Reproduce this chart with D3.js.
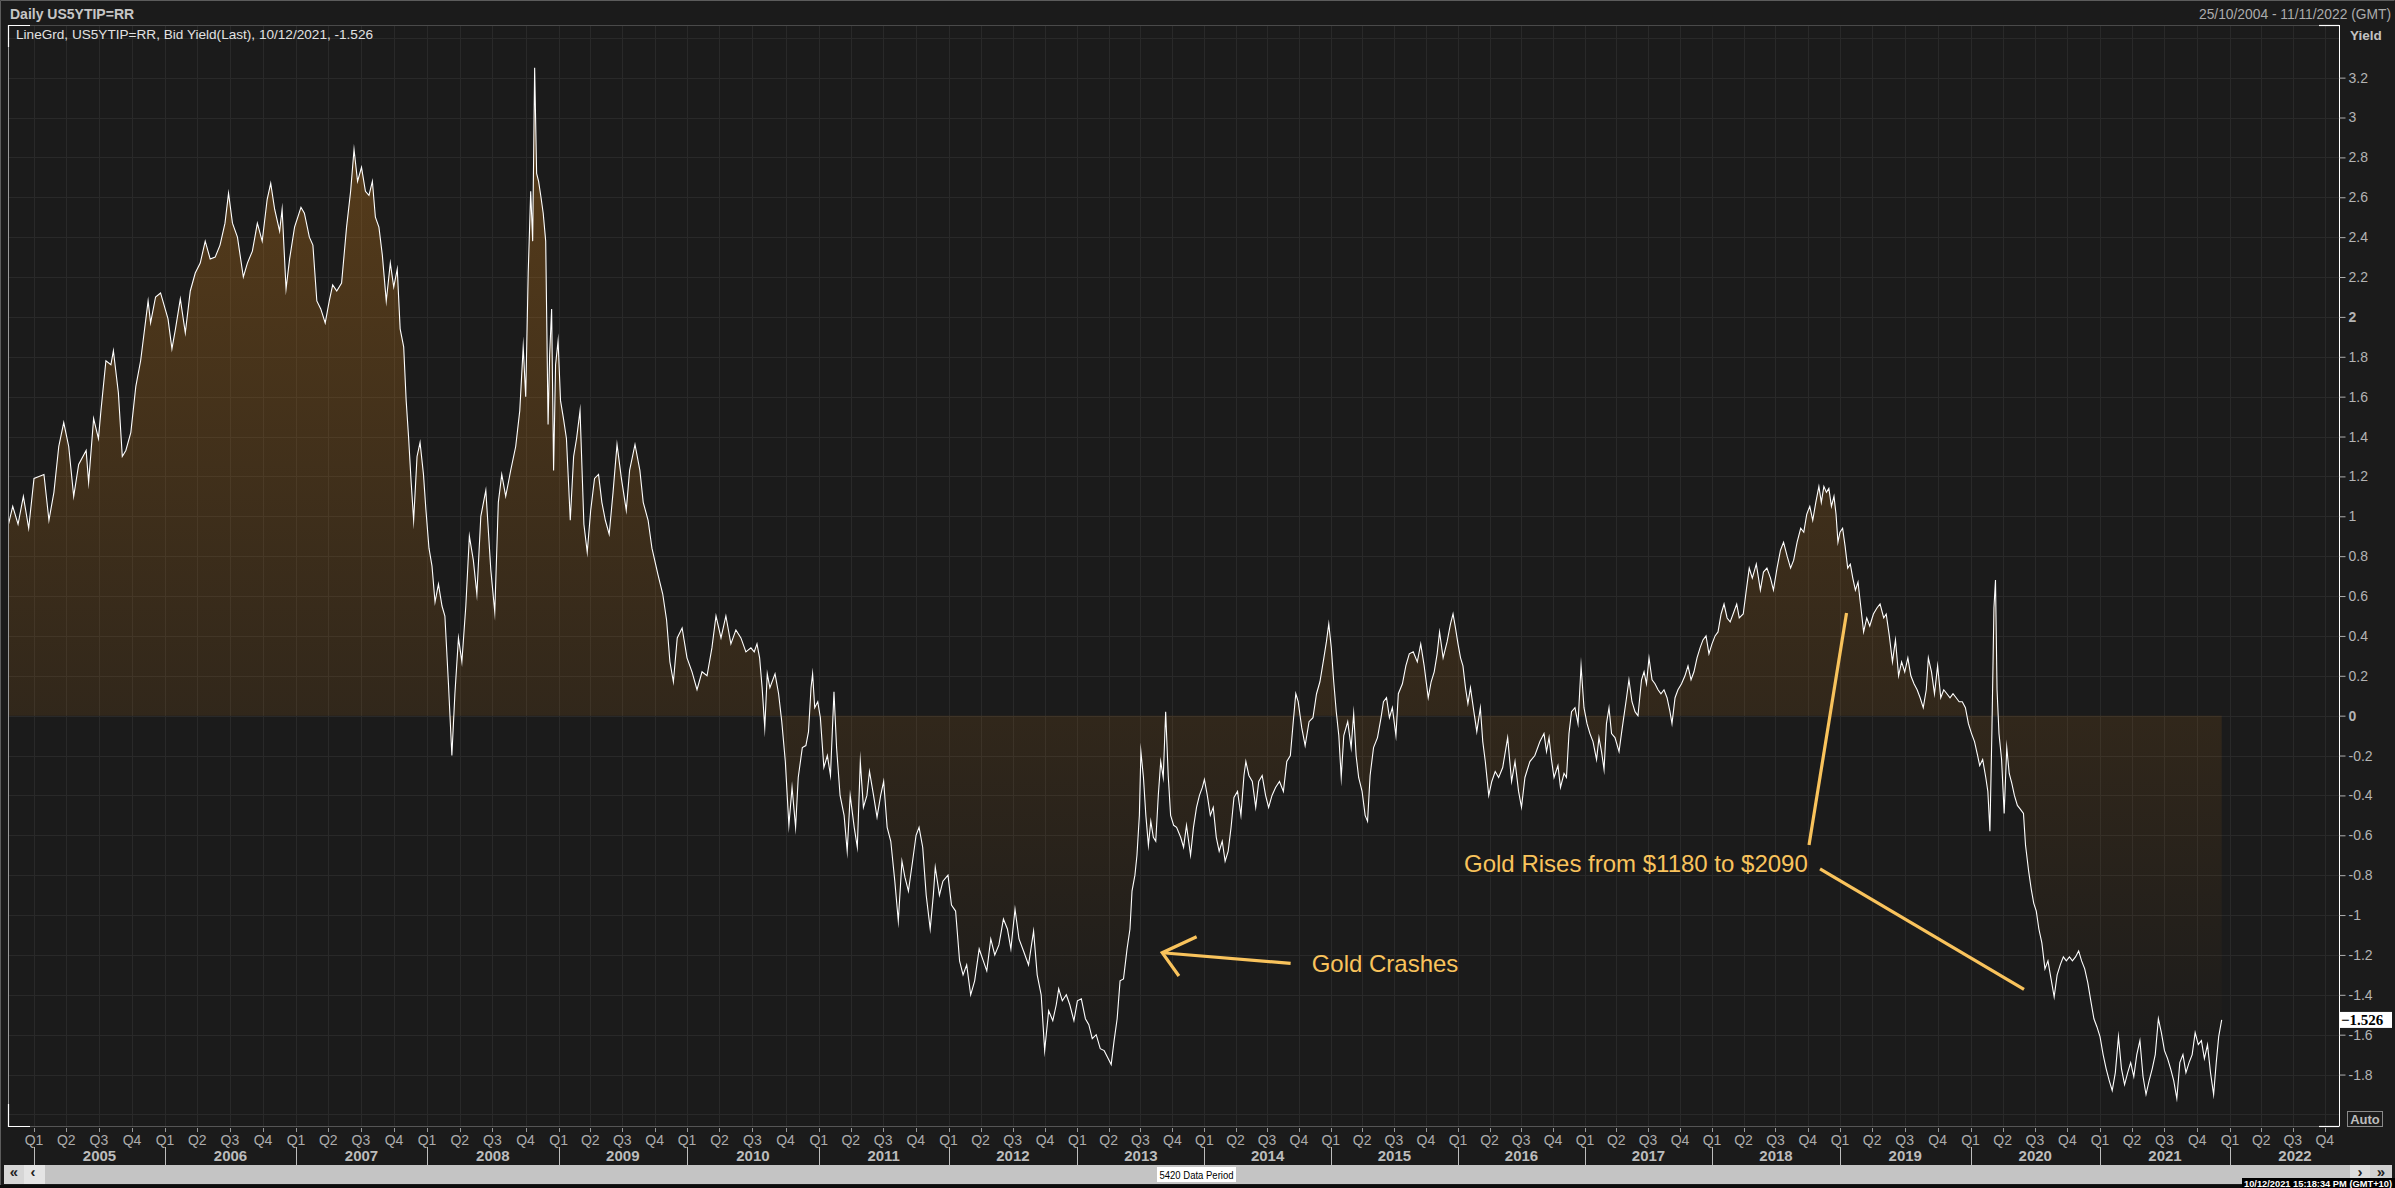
<!DOCTYPE html>
<html><head><meta charset="utf-8">
<script src="https://cdn.jsdelivr.net/npm/d3@7"></script>
<style>html,body{margin:0;padding:0;background:#1b1b1b;overflow:hidden}svg{display:block}</style>
</head><body>
<svg id="chart" width="2395" height="1188"></svg>
<script>
// ---------- DATA (decimal year, real yield %) ----------
const seg2004_2010 = [[2004.811,0.94],[2004.848,1.05],[2004.886,0.96],[2004.924,1.10],[2004.962,0.94],[2005.000,1.19],[2005.038,1.20],[2005.076,1.21],[2005.114,0.98],[2005.152,1.12],[2005.189,1.35],[2005.227,1.47],[2005.265,1.35],[2005.303,1.10],[2005.341,1.26],[2005.398,1.33],[2005.417,1.17],[2005.455,1.49],[2005.492,1.39],[2005.511,1.53],[2005.549,1.78],[2005.587,1.76],[2005.606,1.83],[2005.644,1.62],[2005.674,1.30],[2005.701,1.33],[2005.739,1.42],[2005.777,1.65],[2005.814,1.78],[2005.871,2.08],[2005.890,1.97],[2005.928,2.10],[2005.966,2.12],[2006.023,1.99],[2006.053,1.84],[2006.080,1.94],[2006.117,2.09],[2006.155,1.92],[2006.193,2.13],[2006.231,2.22],[2006.269,2.27],[2006.307,2.38],[2006.345,2.29],[2006.383,2.30],[2006.420,2.36],[2006.458,2.47],[2006.485,2.62],[2006.515,2.47],[2006.553,2.40],[2006.598,2.20],[2006.629,2.27],[2006.667,2.33],[2006.705,2.47],[2006.742,2.38],[2006.780,2.59],[2006.807,2.67],[2006.837,2.54],[2006.875,2.43],[2006.894,2.54],[2006.924,2.14],[2006.951,2.29],[2006.989,2.45],[2007.038,2.55],[2007.064,2.52],[2007.102,2.40],[2007.129,2.36],[2007.159,2.08],[2007.189,2.04],[2007.223,1.97],[2007.254,2.08],[2007.280,2.16],[2007.311,2.13],[2007.348,2.17],[2007.386,2.45],[2007.417,2.63],[2007.443,2.84],[2007.470,2.68],[2007.500,2.75],[2007.530,2.63],[2007.557,2.61],[2007.583,2.68],[2007.606,2.50],[2007.633,2.45],[2007.659,2.31],[2007.689,2.08],[2007.720,2.27],[2007.746,2.15],[2007.773,2.24],[2007.795,1.94],[2007.822,1.85],[2007.841,1.58],[2007.860,1.39],[2007.879,1.17],[2007.898,0.98],[2007.924,1.30],[2007.947,1.37],[2007.973,1.21],[2007.992,1.03],[2008.015,0.84],[2008.038,0.75],[2008.061,0.57],[2008.087,0.66],[2008.114,0.55],[2008.136,0.50],[2008.163,0.16],[2008.189,-0.20],[2008.212,0.11],[2008.239,0.39],[2008.265,0.27],[2008.295,0.55],[2008.322,0.90],[2008.352,0.78],[2008.379,0.61],[2008.409,1.00],[2008.447,1.13],[2008.485,0.73],[2008.515,0.52],[2008.542,1.07],[2008.568,1.21],[2008.598,1.10],[2008.636,1.23],[2008.674,1.35],[2008.705,1.53],[2008.731,1.85],[2008.750,1.60],[2008.769,2.22],[2008.788,2.63],[2008.803,2.38],[2008.818,3.25],[2008.833,2.72],[2008.848,2.68],[2008.864,2.61],[2008.883,2.52],[2008.902,2.38],[2008.920,1.46],[2008.932,1.81],[2008.947,2.04],[2008.962,1.23],[2008.977,1.76],[2008.996,1.88],[2009.015,1.58],[2009.038,1.49],[2009.061,1.39],[2009.091,0.98],[2009.117,1.30],[2009.140,1.39],[2009.167,1.53],[2009.197,0.96],[2009.223,0.82],[2009.250,1.03],[2009.280,1.19],[2009.311,1.21],[2009.337,1.07],[2009.364,0.98],[2009.394,0.91],[2009.424,1.12],[2009.455,1.36],[2009.489,1.19],[2009.527,1.03],[2009.553,1.23],[2009.595,1.36],[2009.633,1.23],[2009.659,1.07],[2009.697,0.98],[2009.727,0.84],[2009.773,0.71],[2009.811,0.61],[2009.841,0.48],[2009.867,0.27],[2009.894,0.17],[2009.924,0.39],[2009.962,0.44],[2010.000,0.29],[2010.038,0.22],[2010.076,0.13],[2010.114,0.22],[2010.152,0.20],[2010.189,0.34],[2010.220,0.50],[2010.258,0.39],[2010.295,0.50],[2010.333,0.36],[2010.371,0.43],[2010.409,0.39],[2010.447,0.32],[2010.485,0.34],[2010.510,0.32]];
const seg2010_2016 = [[2010.531,0.36],[2010.551,0.29],[2010.570,0.14],[2010.590,-0.06],[2010.609,0.21],[2010.629,0.14],[2010.668,0.21],[2010.695,0.11],[2010.719,-0.03],[2010.746,-0.23],[2010.773,-0.55],[2010.797,-0.36],[2010.824,-0.56],[2010.844,-0.31],[2010.875,-0.16],[2010.902,-0.15],[2010.922,-0.08],[2010.941,0.14],[2010.953,0.21],[2010.969,0.04],[2010.992,0.07],[2011.012,-0.01],[2011.039,-0.26],[2011.066,-0.20],[2011.090,-0.30],[2011.117,0.12],[2011.137,-0.16],[2011.164,-0.40],[2011.195,-0.50],[2011.219,-0.68],[2011.242,-0.40],[2011.273,-0.56],[2011.297,-0.66],[2011.320,-0.23],[2011.344,-0.46],[2011.371,-0.40],[2011.391,-0.28],[2011.422,-0.40],[2011.449,-0.51],[2011.477,-0.40],[2011.500,-0.33],[2011.527,-0.56],[2011.555,-0.63],[2011.586,-0.83],[2011.613,-1.03],[2011.641,-0.73],[2011.664,-0.81],[2011.691,-0.88],[2011.723,-0.73],[2011.750,-0.60],[2011.773,-0.56],[2011.801,-0.66],[2011.828,-0.90],[2011.859,-1.07],[2011.883,-0.90],[2011.898,-0.76],[2011.930,-0.90],[2011.957,-0.83],[2011.996,-0.80],[2012.023,-0.95],[2012.055,-0.98],[2012.086,-1.23],[2012.113,-1.30],[2012.141,-1.25],[2012.172,-1.40],[2012.203,-1.33],[2012.238,-1.17],[2012.270,-1.23],[2012.297,-1.28],[2012.328,-1.12],[2012.359,-1.20],[2012.391,-1.15],[2012.426,-1.02],[2012.457,-1.07],[2012.484,-1.17],[2012.516,-0.97],[2012.547,-1.12],[2012.582,-1.18],[2012.621,-1.25],[2012.660,-1.08],[2012.688,-1.30],[2012.719,-1.40],[2012.746,-1.68],[2012.777,-1.48],[2012.809,-1.53],[2012.836,-1.45],[2012.855,-1.37],[2012.883,-1.43],[2012.914,-1.40],[2012.941,-1.45],[2012.973,-1.53],[2013.000,-1.43],[2013.031,-1.42],[2013.063,-1.52],[2013.090,-1.55],[2013.117,-1.62],[2013.148,-1.60],[2013.180,-1.67],[2013.211,-1.68],[2013.242,-1.72],[2013.266,-1.75],[2013.289,-1.63],[2013.313,-1.52],[2013.336,-1.33],[2013.363,-1.32],[2013.391,-1.17],[2013.414,-1.07],[2013.430,-0.88],[2013.453,-0.80],[2013.469,-0.70],[2013.488,-0.50],[2013.500,-0.18],[2013.520,-0.31],[2013.539,-0.50],[2013.559,-0.65],[2013.578,-0.53],[2013.598,-0.61],[2013.617,-0.63],[2013.637,-0.40],[2013.656,-0.23],[2013.676,-0.31],[2013.695,0.02],[2013.715,-0.30],[2013.734,-0.50],[2013.758,-0.55],[2013.781,-0.56],[2013.813,-0.61],[2013.836,-0.66],[2013.859,-0.55],[2013.891,-0.70],[2013.914,-0.56],[2013.938,-0.46],[2013.961,-0.40],[2013.984,-0.36],[2014.000,-0.32],[2014.023,-0.40],[2014.047,-0.50],[2014.070,-0.46],[2014.094,-0.61],[2014.117,-0.68],[2014.141,-0.63],[2014.164,-0.73],[2014.188,-0.68],[2014.211,-0.56],[2014.234,-0.41],[2014.262,-0.38],[2014.289,-0.50],[2014.313,-0.30],[2014.328,-0.23],[2014.352,-0.30],[2014.379,-0.33],[2014.406,-0.46],[2014.430,-0.33],[2014.457,-0.30],[2014.484,-0.40],[2014.508,-0.46],[2014.535,-0.40],[2014.563,-0.36],[2014.594,-0.33],[2014.625,-0.38],[2014.652,-0.23],[2014.680,-0.20],[2014.703,-0.03],[2014.723,0.11],[2014.742,0.07],[2014.770,-0.06],[2014.797,-0.15],[2014.828,-0.03],[2014.859,-0.01],[2014.887,0.11],[2014.914,0.17],[2014.945,0.29],[2014.965,0.37],[2014.984,0.46],[2015.004,0.34],[2015.023,0.17],[2015.043,0.02],[2015.063,-0.10],[2015.082,-0.31],[2015.102,-0.10],[2015.133,-0.03],[2015.160,-0.16],[2015.180,0.01],[2015.199,-0.20],[2015.219,-0.31],[2015.246,-0.38],[2015.270,-0.50],[2015.289,-0.53],[2015.309,-0.30],[2015.336,-0.16],[2015.367,-0.11],[2015.395,-0.01],[2015.414,0.07],[2015.438,0.09],[2015.461,-0.01],[2015.484,0.04],[2015.512,-0.10],[2015.531,0.11],[2015.563,0.16],[2015.590,0.25],[2015.617,0.31],[2015.648,0.32],[2015.680,0.27],[2015.707,0.36],[2015.734,0.25],[2015.766,0.09],[2015.789,0.17],[2015.813,0.22],[2015.836,0.31],[2015.855,0.42],[2015.883,0.29],[2015.914,0.37],[2015.941,0.46],[2015.961,0.51],[2015.980,0.44],[2016.000,0.36],[2016.020,0.29],[2016.039,0.25],[2016.059,0.14],[2016.078,0.06],[2016.098,0.14],[2016.125,0.02],[2016.148,-0.08],[2016.176,0.04],[2016.195,-0.13],[2016.215,-0.23],[2016.242,-0.40],[2016.266,-0.33],[2016.293,-0.28],[2016.320,-0.31],[2016.352,-0.26],[2016.391,-0.11],[2016.422,-0.33],[2016.449,-0.23],[2016.477,-0.38],[2016.500,-0.46],[2016.527,-0.31],[2016.566,-0.23],[2016.605,-0.20],[2016.645,-0.13]];
const seg2016_2021 = [[2016.677,-0.09],[2016.697,-0.18],[2016.717,-0.11],[2016.736,-0.22],[2016.756,-0.31],[2016.787,-0.25],[2016.807,-0.36],[2016.835,-0.29],[2016.854,-0.31],[2016.874,-0.09],[2016.894,0.02],[2016.921,0.04],[2016.945,-0.04],[2016.969,0.25],[2016.992,0.04],[2017.016,-0.04],[2017.039,-0.09],[2017.063,-0.13],[2017.091,-0.22],[2017.110,-0.11],[2017.130,-0.18],[2017.150,-0.27],[2017.169,-0.04],[2017.189,0.04],[2017.209,-0.09],[2017.236,-0.11],[2017.268,-0.18],[2017.287,-0.09],[2017.307,0.00],[2017.327,0.09],[2017.346,0.18],[2017.370,0.07],[2017.394,0.02],[2017.417,0.00],[2017.445,0.18],[2017.465,0.22],[2017.484,0.16],[2017.504,0.29],[2017.528,0.18],[2017.551,0.16],[2017.575,0.13],[2017.598,0.11],[2017.622,0.13],[2017.646,0.09],[2017.669,0.02],[2017.685,-0.04],[2017.709,0.09],[2017.732,0.13],[2017.760,0.16],[2017.787,0.20],[2017.811,0.25],[2017.835,0.18],[2017.858,0.22],[2017.882,0.29],[2017.906,0.34],[2017.929,0.38],[2017.953,0.40],[2017.976,0.31],[2018.000,0.36],[2018.024,0.40],[2018.047,0.42],[2018.071,0.51],[2018.094,0.56],[2018.118,0.49],[2018.142,0.47],[2018.165,0.51],[2018.193,0.56],[2018.213,0.49],[2018.244,0.51],[2018.268,0.63],[2018.291,0.74],[2018.315,0.69],[2018.346,0.76],[2018.378,0.63],[2018.402,0.72],[2018.429,0.74],[2018.457,0.69],[2018.480,0.63],[2018.508,0.74],[2018.535,0.83],[2018.559,0.87],[2018.587,0.80],[2018.614,0.74],[2018.638,0.78],[2018.665,0.87],[2018.693,0.94],[2018.717,0.92],[2018.740,1.01],[2018.764,1.05],[2018.787,0.98],[2018.811,1.07],[2018.835,1.15],[2018.854,1.07],[2018.874,1.15],[2018.894,1.12],[2018.913,1.14],[2018.933,1.05],[2018.953,1.10],[2018.969,1.01],[2018.984,0.87],[2019.000,0.92],[2019.020,0.94],[2019.039,0.85],[2019.059,0.74],[2019.079,0.76],[2019.098,0.69],[2019.118,0.63],[2019.138,0.67],[2019.157,0.56],[2019.181,0.42],[2019.205,0.49],[2019.228,0.45],[2019.256,0.51],[2019.283,0.54],[2019.307,0.56],[2019.335,0.49],[2019.354,0.51],[2019.378,0.40],[2019.402,0.27],[2019.425,0.38],[2019.449,0.20],[2019.472,0.27],[2019.496,0.22],[2019.520,0.29],[2019.543,0.20],[2019.567,0.16],[2019.591,0.13],[2019.614,0.09],[2019.638,0.04],[2019.661,0.13],[2019.677,0.29],[2019.701,0.22],[2019.724,0.11],[2019.748,0.25],[2019.772,0.09],[2019.795,0.13],[2019.819,0.11],[2019.843,0.09],[2019.866,0.11],[2019.890,0.09],[2019.913,0.07],[2019.937,0.07],[2019.961,0.04],[2019.984,-0.04],[2020.008,-0.09],[2020.031,-0.13],[2020.055,-0.20],[2020.071,-0.25],[2020.094,-0.22],[2020.118,-0.31],[2020.134,-0.38],[2020.150,-0.58],[2020.165,-0.09],[2020.181,0.54],[2020.193,0.68],[2020.205,0.13],[2020.220,-0.09],[2020.240,-0.22],[2020.260,-0.49],[2020.280,-0.16],[2020.299,-0.29],[2020.319,-0.34],[2020.339,-0.40],[2020.362,-0.45],[2020.386,-0.47],[2020.409,-0.49],[2020.425,-0.65],[2020.449,-0.78],[2020.469,-0.87],[2020.488,-0.94],[2020.508,-0.98],[2020.528,-1.07],[2020.551,-1.14],[2020.575,-1.27],[2020.598,-1.23],[2020.622,-1.32],[2020.646,-1.41],[2020.669,-1.30],[2020.693,-1.25],[2020.717,-1.21],[2020.740,-1.23],[2020.764,-1.21],[2020.787,-1.23],[2020.811,-1.21],[2020.835,-1.18],[2020.858,-1.23],[2020.882,-1.27],[2020.906,-1.34],[2020.929,-1.43],[2020.953,-1.52],[2020.976,-1.56],[2021.000,-1.61],[2021.024,-1.70],[2021.047,-1.77],[2021.071,-1.83],[2021.094,-1.88],[2021.118,-1.79],[2021.142,-1.61],[2021.165,-1.77],[2021.189,-1.85],[2021.213,-1.79],[2021.236,-1.74],[2021.260,-1.81],[2021.283,-1.70],[2021.307,-1.63],[2021.331,-1.81],[2021.354,-1.90],[2021.378,-1.83],[2021.402,-1.77],[2021.425,-1.70],[2021.449,-1.52],[2021.472,-1.59],[2021.496,-1.68],[2021.520,-1.72],[2021.543,-1.77],[2021.567,-1.83],[2021.591,-1.92],[2021.614,-1.74],[2021.638,-1.70],[2021.661,-1.79],[2021.685,-1.74],[2021.709,-1.70],[2021.732,-1.59],[2021.756,-1.65],[2021.780,-1.63],[2021.803,-1.72],[2021.827,-1.65],[2021.850,-1.79],[2021.874,-1.90],[2021.894,-1.74],[2021.913,-1.61],[2021.936,-1.526]];

const yTickValues = [3.2,3,2.8,2.6,2.4,2.2,2,1.8,1.6,1.4,1.2,1,0.8,0.6,0.4,0.2,0,-0.2,-0.4,-0.6,-0.8,-1,-1.2,-1.4,-1.6,-1.8];
const yGridValues = [3.4,3.2,3,2.8,2.6,2.4,2.2,2,1.8,1.6,1.4,1.2,1,0.8,0.6,0.4,0.2,0,-0.2,-0.4,-0.6,-0.8,-1,-1.2,-1.4,-1.6,-1.8,-2];
const boldTicks = [0, 2];
const yearLabels = [2005,2006,2007,2008,2009,2010,2011,2012,2013,2014,2015,2016,2017,2018,2019,2020,2021,2022];
const quarterNames = ["Q1","Q2","Q3","Q4"];
const lastValue = -1.526;
const titleText = "Daily US5YTIP=RR";
const legendText = "LineGrd, US5YTIP=RR, Bid Yield(Last), 10/12/2021, -1.526";
const rangeText = "25/10/2004 - 11/11/2022 (GMT)";
const axisTitle = "Yield";
const periodText = "5420 Data Period";
const stampText = "10/12/2021 15:18:34 PM  (GMT+10)";
// annotation anchors (where the arrow / line points to), in data units
const noteCrash = {text:"Gold Crashes", date:2013.668, value:-1.189};
const noteRise = {text:"Gold Rises from $1180 to $2090", date:2019.05, value:0.515};

// ---------- SCALES ----------
const decToDate = t => { const yr = Math.floor(t); const a = Date.UTC(yr,0,1), b = Date.UTC(yr+1,0,1); return new Date(a + (t-yr)*(b-a)); };
const series = seg2004_2010.concat(seg2010_2016, seg2016_2021).map(([t,v]) => ({date: decToDate(t), v}));

// axis layout: pixel position of each calendar-year start on the (uneven) data-period axis
const axisDomain = [new Date(Date.UTC(2004,9,25))].concat(yearLabels.map(y => new Date(Date.UTC(y,0,1))), [new Date(Date.UTC(2022,10,11))]);
const axisRange = [8, 34, 165, 296, 427, 558.6, 687, 818.8, 948.5, 1077.4, 1204.4, 1330.8, 1458, 1585, 1712, 1840, 1970.5, 2100, 2230, 2339];
const x = d3.scaleUtc().domain(axisDomain).range(axisRange);
const plotTop = 25, plotBottom = 1126, plotLeft = 8, plotRight = 2339;
const y = d3.scaleLinear().domain([-2.058, 3.464]).range([plotBottom, plotTop]);

const svg = d3.select("#chart");
const FONT = "'Liberation Sans', Arial, sans-serif";

svg.append("rect").attr("width",2395).attr("height",1188).attr("fill","#1b1b1b");
svg.append("path").attr("d","M0.5,1188V0.5H2394.5").attr("stroke","#5c5c5c").attr("fill","none");

const defs = svg.append("defs");
const grad = defs.append("linearGradient").attr("id","fillGrad").attr("gradientUnits","userSpaceOnUse")
  .attr("x1",0).attr("x2",0).attr("y1",y(3.46)).attr("y2",y(-1.75));
grad.append("stop").attr("offset",0).attr("stop-color","rgb(205,125,25)").attr("stop-opacity",0.37);
grad.append("stop").attr("offset",1).attr("stop-color","rgb(205,125,25)").attr("stop-opacity",0);
defs.append("clipPath").attr("id","plotClip").append("rect")
  .attr("x",plotLeft).attr("y",plotTop).attr("width",plotRight-plotLeft).attr("height",plotBottom-plotTop);

// gridlines
const quarters = d3.utcMonth.every(3).range(new Date(Date.UTC(2004,9,25)), new Date(Date.UTC(2022,10,11)));
const grid = svg.append("g").attr("stroke","#292929").attr("stroke-width",1);
grid.selectAll("line.v").data(quarters).join("line")
  .attr("x1",d=>Math.round(x(d))+0.5).attr("x2",d=>Math.round(x(d))+0.5)
  .attr("y1",plotTop).attr("y2",plotBottom);
grid.selectAll("line.h").data(yGridValues).join("line")
  .attr("x1",plotLeft).attr("x2",plotRight)
  .attr("y1",d=>Math.round(y(d))+0.5).attr("y2",d=>Math.round(y(d))+0.5);

// area + line
const g = svg.append("g").attr("clip-path","url(#plotClip)");
g.append("path").datum(series).attr("fill","url(#fillGrad)")
  .attr("d", d3.area().x(d=>x(d.date)).y0(y(0)).y1(d=>y(d.v)));
g.append("path").datum(series).attr("fill","none").attr("stroke","#ffffff").attr("stroke-width",1.1)
  .attr("stroke-linejoin","miter").attr("stroke-miterlimit",20)
  .attr("d", d3.line().x(d=>x(d.date)).y(d=>y(d.v)));

// plot frame
svg.append("line").attr("x1",plotLeft).attr("x2",plotRight).attr("y1",plotTop+0.5).attr("y2",plotTop+0.5).attr("stroke","#4a4a4a");
svg.append("line").attr("x1",plotLeft).attr("x2",plotRight).attr("y1",plotBottom+0.5).attr("y2",plotBottom+0.5).attr("stroke","#555");
svg.append("line").attr("x1",plotLeft+0.5).attr("x2",plotLeft+0.5).attr("y1",plotTop).attr("y2",plotBottom).attr("stroke","#9a9a9a");
const corner = svg.append("g").attr("stroke","#fff").attr("fill","none").attr("stroke-width",1.2);
corner.append("path").attr("d",`M${plotLeft+0.5},${plotTop+22}V${plotTop+0.5}H${plotLeft+22}`);
corner.append("path").attr("d",`M${plotLeft+0.5},${plotBottom-22}V${plotBottom+0.5}H${plotLeft+22}`);
corner.append("path").attr("d",`M${plotRight-20},${plotTop+0.5}H${plotRight}`);
corner.append("path").attr("d",`M${plotRight-20},${plotBottom+0.5}H${plotRight}`);

// right axis
const yAxis = d3.axisRight(y).tickValues(yTickValues).tickSize(6).tickPadding(3)
  .tickFormat(d => String(Math.round(d*10)/10));
const ya = svg.append("g").attr("transform",`translate(${plotRight+0.5},0)`).call(yAxis);
ya.select(".domain").attr("stroke","#ffffff").attr("d",`M0,${plotTop}V${plotBottom+0.5}`);
ya.selectAll(".tick line").attr("stroke","#b0b0b0");
ya.selectAll(".tick text").attr("fill","#b4b4b4").attr("font-family",FONT).attr("font-size",14)
  .attr("font-weight",d=>boldTicks.includes(d)?"bold":"normal");
svg.append("text").attr("x",2350).attr("y",40).text(axisTitle)
  .attr("fill","#c2c2c2").attr("font-family",FONT).attr("font-size",13.5).attr("font-weight","bold");

// last value tag
svg.append("rect").attr("x",plotRight+1).attr("y",y(lastValue)-8).attr("width",52).attr("height",16).attr("fill","#ffffff");
svg.append("text").attr("x",plotRight+2).attr("y",y(lastValue)+5).text(d3.format(".3f")(lastValue))
  .attr("fill","#000").attr("font-family","'Liberation Serif', serif").attr("font-weight","bold").attr("font-size",15);

// Auto button
svg.append("rect").attr("x",2347.5).attr("y",1111.5).attr("width",35).attr("height",15).attr("fill","none").attr("stroke","#8a8a8a");
svg.append("text").attr("x",2365).attr("y",1124).attr("text-anchor","middle").text("Auto")
  .attr("fill","#bdbdbd").attr("font-family",FONT).attr("font-size",13).attr("font-weight","bold");

// bottom axis: quarters
const xa = svg.append("g");
xa.selectAll("line.qt").data(quarters).join("line")
  .attr("x1",d=>Math.round(x(d))+0.5).attr("x2",d=>Math.round(x(d))+0.5)
  .attr("y1",plotBottom+2).attr("y2",plotBottom+6).attr("stroke","#9a9a9a");
xa.selectAll("text.q").data(quarters).join("text")
  .attr("x",d=>x(d)).attr("y",1145).attr("text-anchor","middle")
  .text(d=>quarterNames[Math.floor(d.getUTCMonth()/3)])
  .attr("fill","#acacac").attr("font-family",FONT).attr("font-size",14);
// years
const yearStart = yr => x(new Date(Date.UTC(yr,0,1)));
xa.selectAll("line.ys").data(yearLabels).join("line")
  .attr("x1",d=>Math.round(yearStart(d))+0.5).attr("x2",d=>Math.round(yearStart(d))+0.5)
  .attr("y1",1147).attr("y2",1165).attr("stroke","#bdbdbd");
xa.selectAll("text.yr").data(yearLabels).join("text")
  .attr("x",d=>{const a=yearStart(d); const b = d<2022? yearStart(d+1) : a + (a - yearStart(d-1)); return (a+b)/2;})
  .attr("y",1161).attr("text-anchor","middle").text(d=>d)
  .attr("fill","#bcbcbc").attr("font-family",FONT).attr("font-size",15).attr("font-weight","bold");

// scroll bar
svg.append("rect").attr("x",4).attr("y",1165).attr("width",2388).attr("height",19).attr("fill","#c4c4c4");
svg.append("rect").attr("x",4).attr("y",1165).attr("width",20).attr("height",19).attr("fill","#d6d6d6");
svg.append("rect").attr("x",24).attr("y",1165).attr("width",21).attr("height",19).attr("fill","#e4e4e4");
svg.append("rect").attr("x",2350).attr("y",1165).attr("width",20).attr("height",13).attr("fill","#dcdcdc");
svg.append("rect").attr("x",2370).attr("y",1165).attr("width",22).attr("height",13).attr("fill","#d0d0d0");
const glyph = (t,xx) => svg.append("text").attr("x",xx).attr("y",1177).attr("text-anchor","middle").text(t)
  .attr("fill","#222").attr("font-family",FONT).attr("font-size",15).attr("font-weight","bold");
glyph("«",14); glyph("‹",33); glyph("›",2360); glyph("»",2381);
svg.append("rect").attr("x",1157).attr("y",1167).attr("width",79).attr("height",15).attr("fill","#ffffff");
svg.append("text").attr("x",1196.5).attr("y",1179).attr("text-anchor","middle").text(periodText)
  .attr("fill","#000").attr("font-family",FONT).attr("font-size",11).attr("textLength",74).attr("lengthAdjust","spacingAndGlyphs");
svg.append("rect").attr("x",0).attr("y",1185).attr("width",2395).attr("height",3).attr("fill","#0c0c0c");
svg.append("rect").attr("x",2242).attr("y",1178).attr("width",153).attr("height",10).attr("fill","#000");
svg.append("text").attr("x",2244).attr("y",1186.5).text(stampText)
  .attr("fill","#fff").attr("font-family",FONT).attr("font-size",9.5).attr("font-weight","bold")
  .attr("textLength",148).attr("lengthAdjust","spacingAndGlyphs");

// header texts
svg.append("text").attr("x",10).attr("y",19).text(titleText)
  .attr("fill","#c6c6c6").attr("font-family",FONT).attr("font-size",14).attr("font-weight","bold");
svg.append("text").attr("x",16).attr("y",39).text(legendText)
  .attr("fill","#e2e2e2").attr("font-family",FONT).attr("font-size",13.6);
svg.append("text").attr("x",2391).attr("y",19).attr("text-anchor","end").text(rangeText)
  .attr("fill","#ababab").attr("font-family",FONT).attr("font-size",13.8);

// annotations
const gold = "#f9c35c";
const ann = svg.append("g").attr("stroke",gold).attr("stroke-width",3.2).attr("fill","none").attr("stroke-linecap","butt");
// Gold Crashes arrow (points at the 2013 surge in real yields)
const cx0 = x(decToDate(noteCrash.date)), cy0 = y(noteCrash.value);
ann.append("path").attr("d",`M${cx0+128.4},${cy0+10.6}L${cx0},${cy0}`);
ann.append("path").attr("d",`M${cx0+34.4},${cy0-16}L${cx0},${cy0}L${cx0+16.7},${cy0+23.3}`).attr("stroke-linejoin","miter");
svg.append("text").attr("x",cx0+149.4).attr("y",cy0+19).text(noteCrash.text)
  .attr("fill",gold).attr("font-family",FONT).attr("font-size",24);
// Gold Rises lines
const rx = x(decToDate(noteRise.date)), ry = y(noteRise.value);
ann.append("path").attr("d",`M${rx},${ry}L${rx-37.5},${ry+232}`);
ann.append("path").attr("d",`M${rx-26.5},${ry+256}L${rx+177.5},${ry+376.5}`);
svg.append("text").attr("x",rx-382.5).attr("y",ry+259).text(noteRise.text)
  .attr("fill",gold).attr("font-family",FONT).attr("font-size",24);
</script>
</body></html>
